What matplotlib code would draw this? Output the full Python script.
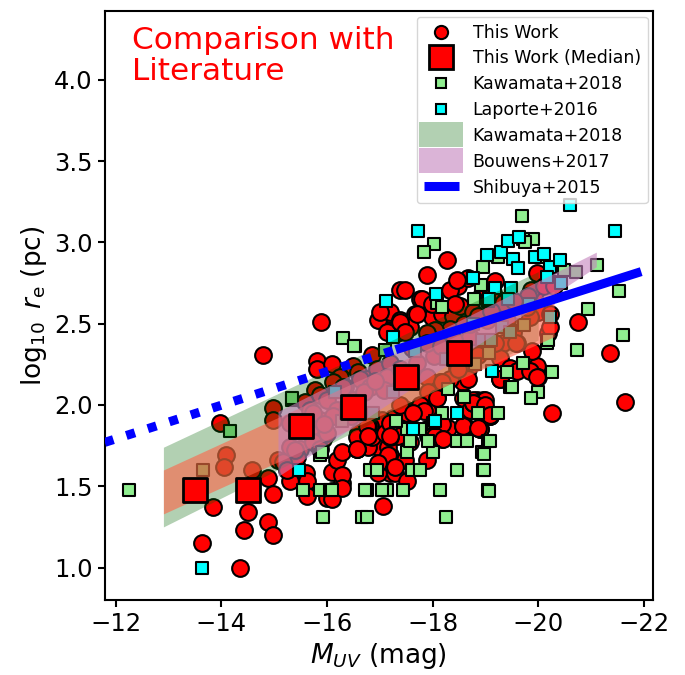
import numpy as np
import matplotlib.pyplot as plt
from matplotlib.lines import Line2D
from matplotlib.patches import Patch, Rectangle
from matplotlib.legend_handler import HandlerPatch

plt.rcParams.update({
    'font.size': 17.5,
    'axes.linewidth': 1.5,
    'xtick.major.width': 1.5,
    'ytick.major.width': 1.5,
    'xtick.major.size': 5,
    'ytick.major.size': 5,
})

# this work: individual galaxies (M_UV, log10 r_e)
tw_M = [-14.35, -13.63, -13.84, -14.42, -14.50, -14.88, -14.98, -14.08, -13.97, -14.05,
        -14.58, -14.88, -14.98, -14.98, -14.98, -15.07, -15.30, -15.60, -15.61, -16.00,
        -16.09, -16.18, -16.28, -16.56, -16.58, -16.75, -16.96, -17.06, -16.96, -17.19,
        -17.19, -17.28, -16.96, -14.78, -15.88, -15.81, -15.81, -16.09, -15.77, -15.86,
        -15.58, -16.49, -16.58, -16.85, -17.00, -17.19, -17.19, -17.38, -16.24, -16.34,
        -16.49, -16.11, -16.75, -18.27, -17.89, -17.47, -17.76, -17.98, -18.48, -18.33,
        -18.67, -19.18, -19.14, -19.97, -20.26, -19.99, -19.84, -20.22, -20.18, -20.75,
        -21.36, -21.64, -20.26, -19.97, -19.88, -19.99, -19.60, -19.48, -19.18, -19.27,
        -19.08, -18.89, -18.84, -18.61, -18.29, -18.57, -18.67, -18.46, -18.33, -18.14,
        -17.89, -18.08, -17.89, -17.76, -17.51, -17.25, -17.04, -16.81, -16.58, -18.57,
        -18.76, -18.95, -18.70, -17.91, -18.17, -17.57, -17.15, -17.34, -16.77, -16.56,
        -16.96, -17.19, -17.38, -17.66, -17.80, -17.98, -18.17, -18.38, -18.52, -18.33,
        -18.04, -17.57, -17.32, -17.13, -18.46, -18.93, -19.08, -19.03, -19.22, -19.41,
        -19.52, -19.33, -18.95, -18.70, -20.22, -19.78, -19.94, -19.27, -19.46, -19.60,
        -19.84, -19.97, -19.27, -18.99, -19.08, -18.89, -19.18, -19.58, -16.28, -16.86,
        -17.28, -17.15, -17.47, -17.89, -17.19, -17.09, -17.19, -16.77, -17.47, -17.66,
        -17.80, -17.89, -17.98, -18.17, -18.57, -18.76, -16.56, -17.00, -17.38, -17.70,
        -17.47, -17.89, -17.98, -18.43, -18.76, -18.86, -18.67, -18.48, -18.17, -17.91,
        -18.08, -17.76, -17.51, -17.38, -17.83, -17.63, -18.76, -18.99, -19.08, -18.57,
        -18.86, -18.04, -18.19, -16.75, -16.77, -16.56, -17.19, -17.15, -16.96, -17.28,
        -17.51, -16.28, -16.09, -16.09, -15.62, -16.28, -15.62, -15.68, -16.00, -16.31,
        -16.63, -16.95, -17.20, -15.87, -16.19, -16.82, -17.14, -15.68, -15.93, -15.49,
        -17.07, -17.71, -18.02, -17.90, -18.15, -17.39, -15.30, -15.49, -15.30, -15.43,
        -15.74, -15.87, -16.00, -16.12, -15.74, -15.17, -15.24, -19.86, -20.10, -20.29,
        -19.80, -19.34, -19.55, -18.70, -18.85, -19.10, -18.40, -18.60, -16.40, -16.70,
        -16.90, -17.60, -15.95, -16.45, -15.40]
tw_r = [1.00, 1.15, 1.37, 1.23, 1.34, 1.28, 1.20, 1.69, 1.89, 1.62,
        1.60, 1.55, 1.45, 1.98, 1.91, 1.66, 1.53, 1.49, 1.58, 1.43,
        1.59, 1.66, 1.71, 1.73, 1.81, 1.86, 1.74, 1.38, 1.63, 1.69,
        1.58, 1.81, 1.58, 2.31, 2.51, 2.27, 2.22, 2.25, 2.09, 2.06,
        2.02, 2.24, 2.20, 2.31, 2.52, 2.56, 2.45, 2.71, 2.17, 2.11,
        2.03, 2.14, 2.16, 2.89, 2.80, 2.71, 2.65, 2.62, 2.73, 2.71,
        2.78, 2.76, 2.69, 2.81, 2.75, 2.57, 2.54, 2.56, 2.44, 2.51,
        2.32, 2.02, 1.95, 2.24, 2.33, 2.17, 2.38, 2.22, 2.38, 2.16,
        1.93, 1.85, 2.03, 1.87, 1.86, 2.14, 2.22, 2.23, 2.16, 2.14,
        2.17, 2.05, 1.97, 1.98, 1.97, 1.92, 1.91, 1.87, 1.83, 2.04,
        2.03, 2.03, 1.97, 1.81, 1.88, 1.77, 1.74, 1.81, 1.74, 1.73,
        2.52, 2.57, 2.52, 2.56, 2.65, 2.54, 2.56, 2.55, 2.61, 2.47,
        2.46, 2.48, 2.44, 2.45, 2.77, 2.68, 2.67, 2.52, 2.60, 2.52,
        2.45, 2.38, 2.38, 2.42, 2.48, 2.60, 2.69, 2.29, 2.23, 2.21,
        2.21, 2.17, 2.16, 2.03, 1.93, 1.85, 2.38, 2.38, 1.52, 1.80,
        1.58, 1.68, 1.66, 1.66, 1.80, 1.83, 1.89, 1.87, 1.95, 1.97,
        1.98, 1.85, 1.81, 1.79, 1.87, 2.01, 1.80, 2.57, 2.51, 2.56,
        2.45, 2.44, 2.62, 2.62, 2.57, 2.31, 2.16, 2.22, 2.14, 2.08,
        2.04, 2.00, 1.95, 2.00, 1.96, 1.95, 2.01, 2.00, 1.94, 1.87,
        1.86, 1.81, 1.79, 1.87, 1.81, 1.73, 1.81, 1.69, 1.64, 1.62,
        1.53, 1.57, 1.47, 1.42, 1.53, 1.49, 1.44, 1.97, 2.03, 2.11,
        2.16, 2.22, 2.26, 1.91, 1.97, 2.11, 2.17, 1.83, 1.79, 1.73,
        2.09, 2.26, 2.30, 2.38, 2.36, 2.22, 1.89, 1.85, 1.74, 1.68,
        1.77, 1.73, 1.83, 1.93, 1.95, 1.65, 1.60, 2.71, 2.73, 2.73,
        2.67, 2.63, 2.64, 2.50, 2.55, 2.58, 2.40, 2.50, 2.00, 2.08,
        2.15, 2.35, 1.88, 1.93, 1.72]

# this work: medians in 1 mag bins
med_M = [-13.5, -14.5, -15.5, -16.5, -17.5, -18.5]
med_r = [1.48, 1.48, 1.87, 1.99, 2.17, 2.32]

# Kawamata+2018 individual sizes
kaw_M = [-12.25, -14.16, -13.65, -15.93, -16.67, -16.76, -15.87, -16.06, -15.55, -16.76,
         -17.05, -17.14, -16.82, -16.95, -15.87, -15.34, -18.25, -16.09, -16.72, -17.04,
         -17.44, -18.14, -19.05, -17.61, -17.76, -18.46, -18.95, -17.51, -18.00, -18.93,
         -17.57, -17.91, -18.46, -18.65, -19.05, -15.90, -18.17, -18.86, -17.51, -18.00,
         -17.76, -20.73, -20.26, -19.72, -19.47, -19.99, -19.87, -19.23, -19.08, -18.97,
         -18.97, -19.06, -20.17, -21.53, -20.95, -21.60, -21.12, -20.72, -20.49, -20.05,
         -19.91, -19.72, -18.95, -18.91, -19.70, -18.02, -17.83, -19.75, -19.23, -18.78,
         -19.73, -20.18, -18.08, -18.18, -16.53, -17.10, -19.50, -19.06, -19.40, -16.30,
         -16.51, -15.34, -16.28, -16.36, -16.86, -17.31, -18.60, -17.40, -18.30, -18.80]
kaw_r = [1.48, 1.84, 1.60, 1.31, 1.31, 1.31, 1.48, 1.48, 1.48, 1.48,
         1.48, 1.48, 1.60, 1.60, 1.69, 2.03, 1.31, 1.48, 1.48, 1.48,
         1.48, 1.48, 1.48, 1.60, 1.60, 1.60, 1.60, 1.71, 1.71, 1.71,
         1.78, 1.78, 1.78, 1.78, 1.78, 1.71, 1.95, 1.95, 1.85, 1.89,
         1.85, 2.34, 2.20, 2.26, 2.11, 2.08, 2.04, 1.95, 1.78, 1.70,
         1.60, 1.47, 2.38, 2.70, 2.59, 2.43, 2.86, 2.82, 2.83, 2.91,
         3.02, 3.02, 2.85, 2.74, 3.16, 2.99, 2.94, 3.00, 2.91, 2.65,
         2.49, 2.40, 2.63, 2.60, 2.36, 2.34, 2.11, 2.32, 2.20, 2.41,
         2.36, 2.04, 1.90, 1.95, 1.95, 1.90, 2.05, 2.20, 2.10, 2.25]

# Laporte+2016 individual sizes
lap_M = [-13.64, -15.47, -16.87, -17.11, -17.25, -16.15, -17.25, -18.25, -18.42, -19.13,
         -18.93, -18.04, -17.63, -18.46, -19.05, -17.72, -20.60, -21.45, -19.03, -19.29,
         -19.43, -19.64, -19.52, -19.62, -19.93, -20.10, -20.22, -20.41, -20.16, -20.44,
         -18.76, -19.19, -19.49, -19.43, -19.06, -18.07, -17.66, -19.32, -19.46, -19.82,
         -20.22, -18.76, -19.10, -17.40]
lap_r = [1.00, 1.60, 1.95, 2.64, 2.42, 2.08, 2.08, 2.28, 2.30, 2.21,
         2.40, 1.90, 1.85, 1.95, 2.64, 3.07, 3.23, 3.07, 2.92, 2.94,
         3.01, 3.03, 2.90, 2.84, 2.91, 2.93, 2.85, 2.89, 2.79, 2.75,
         2.78, 2.72, 2.72, 2.65, 2.65, 2.68, 2.33, 2.48, 2.45, 2.62,
         2.54, 2.50, 2.40, 2.20]

# size-luminosity relations (edges of the shaded ranges)
kaw_band_M = [-12.9, -20.0]
kaw_band_lo = [1.25, 2.40]
kaw_band_hi = [1.74, 2.82]

tw_band_M = [-12.9, -20.3]
tw_band_lo = [1.33, 2.42]
tw_band_hi = [1.60, 2.70]

bou_band_M = [-15.07, -21.1]
bou_band_lo = [1.56, 2.85]
bou_band_hi = [1.96, 2.94]

shi_M = [-11.79, -17.3, -21.95]
shi_r = [1.77, 2.34, 2.82]

kaw_col = 'darkgreen'
tw_col = 'tomato'
bou_col = (0.77, 0.51, 0.74)

fig = plt.figure(figsize=(6.85, 6.75), dpi=100)
ax = fig.add_axes([0.153, 0.111, 0.800, 0.872])

ax.scatter(tw_M, tw_r, s=145, c='red', edgecolors='k', linewidths=1.5, zorder=2)
ax.scatter(kaw_M, kaw_r, s=75, marker='s', c='lightgreen', edgecolors='k',
           linewidths=1.5, zorder=2)
ax.scatter(lap_M, lap_r, s=75, marker='s', c='cyan', edgecolors='k',
           linewidths=1.5, zorder=2)

# shaded relations, drawn over the individual points
def band(Ms, lo, hi):
    x = np.linspace(Ms[0], Ms[1], 50)
    return x, np.interp(x, Ms[::-1], lo[::-1]), np.interp(x, Ms[::-1], hi[::-1])

x, lo, hi = band(kaw_band_M, kaw_band_lo, kaw_band_hi)
ax.fill_between(x, lo, hi, color=kaw_col, alpha=0.3, lw=0, zorder=3)
x, lo, hi = band(tw_band_M, tw_band_lo, tw_band_hi)
ax.fill_between(x, lo, hi, color=tw_col, alpha=0.6, lw=0, zorder=3)
x, lo, hi = band(bou_band_M, bou_band_lo, bou_band_hi)
ax.fill_between(x, lo, hi, color=bou_col, alpha=0.6, lw=0, zorder=3)

ax.scatter(med_M, med_r, s=300, marker='s', c='red', edgecolors='k', linewidths=2,
           zorder=4)

ax.plot(shi_M[:2], shi_r[:2], color='blue', lw=6.5, ls=(0, (1, 1.5)), zorder=5)
ax.plot(shi_M[1:], shi_r[1:], color='blue', lw=6.5, solid_capstyle='butt', zorder=5)

ax.text(0.05, 0.975, 'Comparison with\nLiterature', transform=ax.transAxes,
        color='red', fontsize=22.4, va='top', ha='left', linespacing=1.1)


# legend swatches a bit larger than the handle box
def big_swatch(legend, orig_handle, xdescent, ydescent, width, height, fontsize):
    return Rectangle((-xdescent - 3.5, -ydescent - 4.5), width + 7, height + 9)


handles = [
    Line2D([], [], ls='none', marker='o', ms=9.5, mfc='red', mec='k', mew=1.5),
    Line2D([], [], ls='none', marker='s', ms=17, mfc='red', mec='k', mew=2),
    Line2D([], [], ls='none', marker='s', ms=7, mfc='lightgreen', mec='k', mew=1.5),
    Line2D([], [], ls='none', marker='s', ms=7, mfc='cyan', mec='k', mew=1.5),
    Patch(facecolor=kaw_col, alpha=0.3, lw=0),
    Patch(facecolor=bou_col, alpha=0.6, lw=0),
    Line2D([], [], color='blue', lw=6.5, solid_capstyle='butt'),
]
labels = ['This Work', 'This Work (Median)', 'Kawamata+2018', 'Laporte+2016',
          'Kawamata+2018', 'Bouwens+2017', 'Shibuya+2015']
ax.legend(handles, labels, loc='upper right', fontsize=12.5, labelspacing=0.45,
          borderaxespad=0.3, handler_map={Patch: HandlerPatch(patch_func=big_swatch)})

ax.set_xlim(-11.79, -22.17)
ax.set_ylim(0.80, 4.42)
ax.set_yticks([1.0, 1.5, 2.0, 2.5, 3.0, 3.5, 4.0])
ax.set_xlabel('$M_{UV}$ (mag)', fontsize=19)
ax.set_ylabel('$\\log_{10}\\ r_{\\rm e}$ (pc)', fontsize=19)

fig.savefig('out.png', dpi=100)
